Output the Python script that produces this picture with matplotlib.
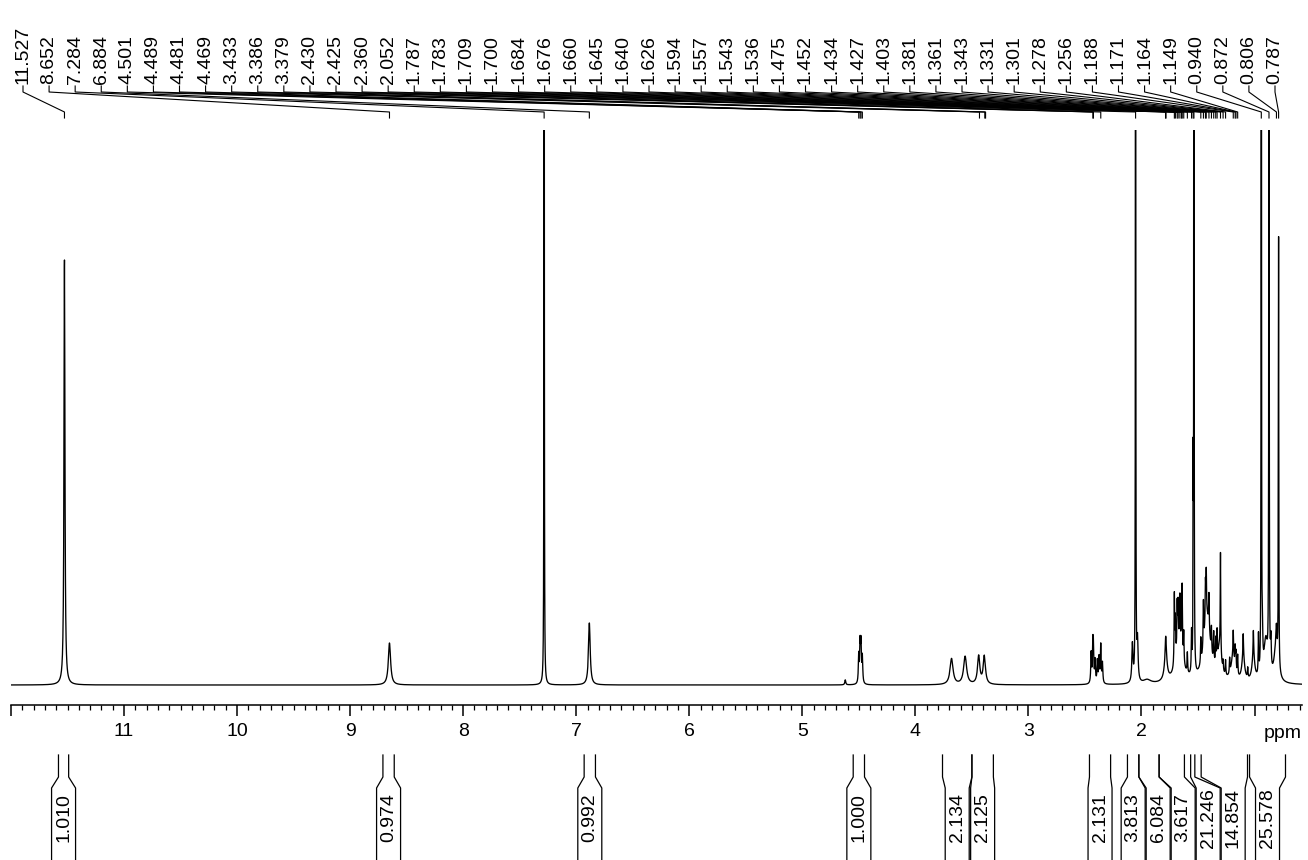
import numpy as np
import matplotlib
matplotlib.use("Agg")
import matplotlib.pyplot as plt
from matplotlib.transforms import blended_transform_factory
from matplotlib.ticker import MultipleLocator, FixedLocator, FixedFormatter

plt.rcParams['font.family'] = ['Liberation Sans', 'DejaVu Sans']

# ---------------- data ----------------
# spectrum peaks: position (ppm), height (display units), half width (ppm)
peak_ppm = [11.527, 8.652, 7.284, 6.884, 4.62,
            4.501, 4.489, 4.481, 4.469,
            3.68, 3.56, 3.44, 3.39,
            2.445, 2.430, 2.425, 2.410, 2.390, 2.375, 2.360, 2.345,
            2.080, 2.052, 2.035, 1.95,
            1.787, 1.783, 1.785,
            1.665, 1.709, 1.700, 1.684, 1.676, 1.660, 1.645, 1.640, 1.626, 1.594,
            1.557, 1.543, 1.536,
            1.42, 1.475, 1.452, 1.434, 1.427, 1.403,
            1.31, 1.381, 1.361, 1.343, 1.331, 1.301,
            1.19, 1.10, 1.01, 0.90, 0.81,
            1.278, 1.256, 1.220, 1.188, 1.171, 1.164, 1.149, 1.100, 1.060, 1.010, 0.965,
            0.940, 0.930, 0.872, 0.855, 0.806, 0.787]
peak_height = [425, 42, 2000, 62, 5,
               28, 38, 38, 26,
               26, 28, 28, 28,
               30, 34, 30, 22, 22, 25, 38, 20,
               38, 2000, 40, 4,
               12, 12, 25,
               40, 70, 40, 45, 40, 45, 35, 60, 30, 20,
               40, 180, 2000,
               65, 25, 45, 40, 45, 35,
               30, 25, 30, 25, 30, 100,
               25, 25, 25, 40, 35,
               10, 15, 15, 25, 20, 18, 20, 22, 10, 25, 40,
               2000, 30, 2000, 30, 20, 430]
peak_hwhm = [0.005, 0.012, 0.0012, 0.009, 0.005,
             0.004, 0.004, 0.004, 0.004,
             0.016, 0.016, 0.012, 0.012,
             0.004, 0.004, 0.004, 0.004, 0.004, 0.004, 0.004, 0.004,
             0.006, 0.0012, 0.006, 0.04,
             0.004, 0.004, 0.015,
             0.035, 0.003, 0.003, 0.003, 0.003, 0.003, 0.003, 0.003, 0.003, 0.003,
             0.003, 0.0015, 0.0012,
             0.035, 0.003, 0.003, 0.003, 0.003, 0.003,
             0.02, 0.003, 0.003, 0.003, 0.003, 0.0025,
             0.02, 0.015, 0.015, 0.02, 0.02,
             0.003, 0.003, 0.003, 0.003, 0.003, 0.003, 0.003, 0.003, 0.003, 0.003, 0.003,
             0.0012, 0.004, 0.0012, 0.004, 0.004, 0.002]

# peak-pick labels (ppm)
peak_labels = ["11.527", "8.652", "7.284", "6.884", "4.501", "4.489", "4.481",
               "4.469", "3.433", "3.386", "3.379", "2.430", "2.425", "2.360",
               "2.052", "1.787", "1.783", "1.709", "1.700", "1.684", "1.676",
               "1.660", "1.645", "1.640", "1.626", "1.594", "1.557", "1.543",
               "1.536", "1.475", "1.452", "1.434", "1.427", "1.403", "1.381",
               "1.361", "1.343", "1.331", "1.301", "1.278", "1.256", "1.188",
               "1.171", "1.164", "1.149", "0.940", "0.872", "0.806", "0.787"]

# integrals: left edge, right edge (ppm), value
integral_left = [11.58, 8.71, 6.93, 4.55, 3.76, 3.50, 2.46, 2.124, 2.023, 1.844, 1.565, 1.472, 1.044]
integral_right = [11.49, 8.61, 6.83, 4.45, 3.50, 3.31, 2.273, 2.023, 1.844, 1.620, 1.528, 1.062, 0.726]
integral_values = ["1.010", "0.974", "0.992", "1.000", "2.134", "2.125", "2.131",
                   "3.813", "6.084", "3.617", "21.246", "14.854", "25.578"]

x_major = [12, 11, 10, 9, 8, 7, 6, 5, 4, 3, 2, 1]
x_major_labels = ["", "11", "10", "9", "8", "7", "6", "5", "4", "3", "2", ""]

# ---------------- layout ----------------
W, H = 1308, 860
XL, XR = 12.0, 0.58
AX_L, AX_R = 11, 1302


def fy(ypx):
    return 1 - np.asarray(ypx, dtype=float) / H


fig = plt.figure(figsize=(W / 100, H / 100), dpi=100)
ax = fig.add_axes([AX_L / W, fy(705), (AX_R - AX_L) / W, (705 - 130) / H])

ppm_grid = np.arange(XR, XL, 0.0003)
spec = np.zeros_like(ppm_grid)
for p, h, w in zip(peak_ppm, peak_height, peak_hwhm):
    spec += h * w ** 2 / ((ppm_grid - p) ** 2 + w ** 2)
ax.plot(ppm_grid, spec, color='black', lw=0.95)

ax.set_xlim(XL, XR)
ax.set_ylim(-20, 555)
for s in ['top', 'left', 'right']:
    ax.spines[s].set_visible(False)
ax.spines['bottom'].set_linewidth(1.1)
ax.set_yticks([])
ax.xaxis.set_major_locator(FixedLocator(x_major))
ax.xaxis.set_major_formatter(FixedFormatter(x_major_labels))
ax.xaxis.set_minor_locator(MultipleLocator(0.1))
ax.tick_params(axis='x', which='major', length=8, width=1.1, labelsize=14, pad=5)
ax.tick_params(axis='x', which='minor', length=3.6, width=0.9)

tr = blended_transform_factory(ax.transData, fig.transFigure)
ax.text(0.75, fy(733), "ppm", transform=tr, ha='center', va='center', fontsize=14)

ppm_per_px = (XL - XR) / (AX_R - AX_L)


def px2ppm(xpx):
    return XL - (np.asarray(xpx, dtype=float) - AX_L) * ppm_per_px


# peak labels with connectors
n = len(peak_labels)
label_pos = px2ppm(np.linspace(23, 1275, n))
for lp, lab in zip(label_pos, peak_labels):
    pp = float(lab)
    ax.plot([lp, lp, pp, pp], fy([86, 92, 112, 118]), transform=tr, color='black',
            lw=0.8, clip_on=False)
    ax.text(lp, fy(84), lab, transform=tr, rotation=90, ha='center', va='bottom',
            fontsize=14)

# integrals: label boxes pushed left-to-right so they do not overlap
centers = [(a + b) / 2 for a, b in zip(integral_left, integral_right)]
min_gap = 25 * ppm_per_px
order = np.argsort(centers)[::-1]  # descending ppm = left to right
text_pos = np.array(centers, dtype=float)
for k in range(1, len(order)):
    i, j = order[k - 1], order[k]
    if text_pos[i] - text_pos[j] < min_gap:
        text_pos[j] = text_pos[i] - min_gap
half = 12 * ppm_per_px
for a, b, c, v in zip(integral_left, integral_right, text_pos, integral_values):
    ax.plot([a, a, c + half, c + half], fy([755, 777, 788, 862]), transform=tr,
            color='black', lw=0.9, clip_on=False)
    ax.plot([b, b, c - half, c - half], fy([755, 777, 788, 862]), transform=tr,
            color='black', lw=0.9, clip_on=False)
    ax.text(c, fy(818), v, transform=tr, rotation=90, ha='center', va='center',
            fontsize=14)

fig.savefig("out.png", dpi=100)
